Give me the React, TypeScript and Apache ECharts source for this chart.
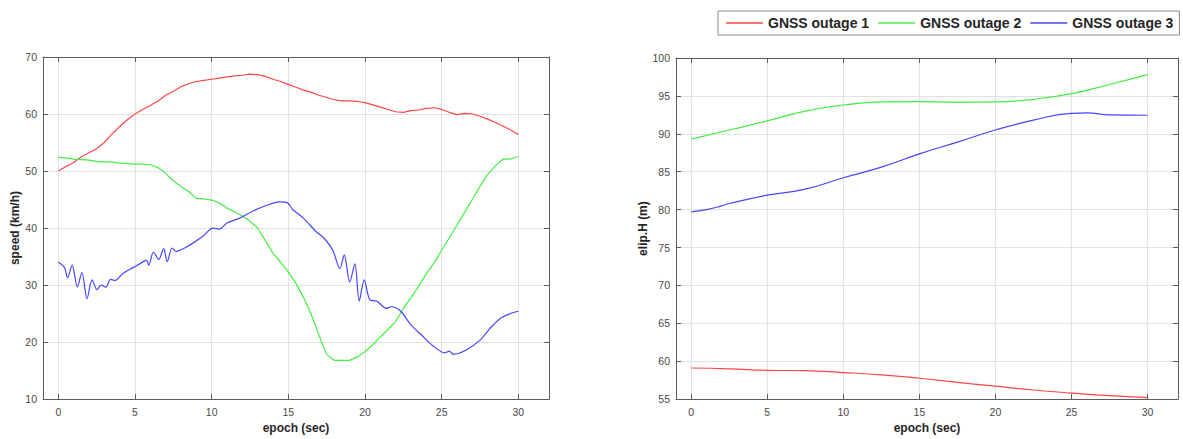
import React, { useEffect, useRef } from "react";
import * as echarts from "echarts";

// ---------- data ----------
const epochHalf = [
  0, 0.5, 1, 1.5, 2, 2.5, 3, 3.5, 4, 4.5, 5, 5.5, 6, 6.5, 7, 7.5, 8, 8.5, 9, 9.5,
  10, 10.5, 11, 11.5, 12, 12.5, 13, 13.5, 14, 14.5, 15, 15.5, 16, 16.5, 17, 17.5,
  18, 18.5, 19, 19.5, 20, 20.5, 21, 21.5, 22, 22.5, 23, 23.5, 24, 24.5, 25, 25.5,
  26, 26.5, 27, 27.5, 28, 28.5, 29, 29.5, 30,
];

const speedOutage1 = [
  50.0, 50.8, 51.5, 52.5, 53.2, 53.9, 55.0, 56.5, 57.8, 59.0, 60.0, 60.8, 61.5, 62.3,
  63.3, 64.0, 64.8, 65.3, 65.7, 65.9, 66.1, 66.3, 66.5, 66.7, 66.8, 67.0, 66.9, 66.6,
  66.1, 65.7, 65.2, 64.7, 64.2, 63.8, 63.3, 62.9, 62.5, 62.3, 62.3, 62.2, 62.0, 61.6,
  61.2, 60.8, 60.4, 60.3, 60.6, 60.7, 61.0, 61.1, 60.8, 60.3, 59.9, 60.1, 60.0, 59.6,
  59.1, 58.5, 57.9, 57.2, 56.4,
];

const speedOutage2 = [
  52.4, 52.3, 52.1, 52.0, 51.9, 51.7, 51.6, 51.6, 51.4, 51.3, 51.2, 51.2, 51.1, 50.6,
  49.6, 48.3, 47.3, 46.4, 45.2, 45.1, 44.9, 44.4, 43.5, 42.8, 42.1, 41.2, 40.0, 37.8,
  35.6, 34.0, 32.3, 30.3, 27.8, 24.8, 21.2, 17.8, 16.8, 16.8, 16.8, 17.4, 18.3, 19.5,
  20.9, 22.2, 23.6, 25.9, 27.8, 29.8, 32.0, 33.9, 36.1, 38.3, 40.5, 42.8, 45.0, 47.3,
  49.4, 50.9, 52.1, 52.1, 52.6,
];

const speedOutage3Epoch = [
  0, 0.4, 0.6, 0.9, 1.24, 1.54, 1.87, 2.2, 2.52, 2.8, 3.1, 3.4, 3.7, 4.2, 4.9, 5.6,
  5.75, 5.9, 6.2, 6.55, 6.87, 7.1, 7.42, 7.7, 8.3, 8.8, 9.4, 10.1, 10.5, 11.0, 11.8,
  12.7, 13.6, 14.4, 14.9, 15.3, 16.0, 16.8, 17.3, 17.9, 18.36, 18.65, 19.0, 19.34,
  19.62, 19.95, 20.32, 20.76, 21.4, 21.7, 22.3, 23.0, 23.7, 24.45, 25.2, 25.5, 25.76,
  26.6, 27.5, 28.15, 28.8, 29.4, 30,
];
const speedOutage3 = [
  34.0, 33.1, 31.3, 33.5, 29.7, 32.2, 27.6, 30.9, 29.2, 30.0, 29.6, 31.0, 30.8, 32.0,
  33.1, 34.2, 34.4, 33.5, 35.8, 34.5, 36.4, 34.1, 36.5, 35.9, 36.6, 37.4, 38.5, 40.0,
  39.8, 40.9, 41.7, 43.0, 44.0, 44.6, 44.5, 43.2, 41.7, 39.4, 38.3, 36.1, 32.9, 35.3,
  30.5, 33.7, 27.2, 30.9, 27.4, 27.2, 25.9, 26.2, 25.5, 23.0, 21.2, 19.3, 18.1, 18.4,
  17.85, 18.6, 20.35, 22.4, 24.1, 24.9, 25.4,
];

const epochCoarse = [0, 2.5, 5, 7.5, 10, 12.5, 15, 17.5, 20, 22.5, 25, 27.5, 30];
const heightOutage1 = [59.1, 59.0, 58.8, 58.75, 58.5, 58.2, 57.75, 57.2, 56.7, 56.2, 55.8, 55.45, 55.2];
const heightOutage2 = [89.3, 90.5, 91.7, 93.0, 93.8, 94.2, 94.25, 94.15, 94.2, 94.55, 95.3, 96.5, 97.8];
const heightOutage3Epoch = [0, 1, 2, 2.5, 5, 7.5, 10, 12.5, 15, 17.5, 20, 22.5, 25, 26, 27.5, 30];
const heightOutage3 = [79.7, 80.0, 80.5, 80.8, 81.9, 82.7, 84.2, 85.6, 87.35, 88.9, 90.5, 91.8, 92.7, 92.75, 92.5, 92.45];

const xTicks = [0, 5, 10, 15, 20, 25, 30];
const seriesNames = ["GNSS outage 1", "GNSS outage 2", "GNSS outage 3"];
const seriesColors = ["#ff4646", "#44ee44", "#4646ff"];
const xTitle = "epoch (sec)";
const yTitles = ["speed (km/h)", "elip.H (m)"];

// ---------- helpers ----------
const zip = (xs: number[], ys: number[]) => xs.map((x, i) => [x, ys[i]]);

const FONT = "'Liberation Sans', Arial, Helvetica, sans-serif";
const AXIS_COLOR = "#5c5c5c";
const GRID_COLOR = "#e2e2e2";
const LABEL_COLOR = "#4a4a4a";
const TITLE_COLOR = "#262626";

function xAxisFor(gridIndex: number, primary: boolean) {
  return {
    type: "value",
    gridIndex,
    position: primary ? "bottom" : "top",
    min: -1,
    max: 32,
    axisLine: { show: true, onZero: false, lineStyle: { color: AXIS_COLOR, width: 1 } },
    axisTick: {
      show: true,
      inside: true,
      length: 5,
      customValues: xTicks,
      lineStyle: { color: AXIS_COLOR, width: 1 },
    },
    axisLabel: {
      show: primary,
      customValues: xTicks,
      margin: 7,
      fontSize: 10.5,
      color: LABEL_COLOR,
      fontFamily: FONT,
    },
    splitLine: { show: primary, lineStyle: { color: GRID_COLOR, width: 1 } },
    name: primary ? xTitle : "",
    nameLocation: "middle",
    nameGap: 22,
    nameTextStyle: { fontWeight: "bold", fontSize: 12, color: TITLE_COLOR, fontFamily: FONT },
  };
}

function yAxisFor(gridIndex: number, primary: boolean, min: number, max: number, interval: number, title: string, nameGap: number) {
  return {
    type: "value",
    gridIndex,
    position: primary ? "left" : "right",
    min,
    max,
    interval,
    axisLine: { show: true, onZero: false, lineStyle: { color: AXIS_COLOR, width: 1 } },
    axisTick: { show: true, inside: true, length: 5, lineStyle: { color: AXIS_COLOR, width: 1 } },
    axisLabel: {
      show: primary,
      margin: 6,
      fontSize: 10.5,
      color: LABEL_COLOR,
      fontFamily: FONT,
    },
    splitLine: { show: primary, lineStyle: { color: GRID_COLOR, width: 1 } },
    name: primary ? title : "",
    nameLocation: "middle",
    nameGap,
    nameRotate: 90,
    nameTextStyle: { fontWeight: "bold", fontSize: 12, color: TITLE_COLOR, fontFamily: FONT },
  };
}

function lineSeries(name: string, color: string, xAxisIndex: number, yAxisIndex: number, data: number[][], smooth: number | boolean) {
  return {
    type: "line",
    name,
    xAxisIndex,
    yAxisIndex,
    data,
    symbol: "none",
    smooth,
    lineStyle: { color, width: 1.2 },
    itemStyle: { color },
  };
}

export default function App() {
  const ref = useRef<HTMLDivElement>(null);

  useEffect(() => {
    if (!ref.current) return;
    const chart = echarts.init(ref.current, undefined, { renderer: "svg" });
    chart.setOption({
      animation: false,
      backgroundColor: "#ffffff",
      textStyle: { fontFamily: FONT },
      legend: {
        left: 718,
        top: 11,
        orient: "horizontal",
        icon: "rect",
        itemWidth: 37,
        itemHeight: 1.5,
        itemGap: 9,
        padding: [5, 6, 5, 8],
        borderColor: "#8a8a8a",
        borderWidth: 1,
        backgroundColor: "#ffffff",
        data: seriesNames,
        textStyle: { fontWeight: "bold", fontSize: 14, lineHeight: 14, color: TITLE_COLOR, fontFamily: FONT },
      },
      grid: [
        { left: 43, top: 57, width: 506, height: 346 },
        { left: 676, top: 58, width: 502, height: 344 },
      ],
      xAxis: [xAxisFor(0, true), xAxisFor(0, false), xAxisFor(1, true), xAxisFor(1, false)],
      yAxis: [
        yAxisFor(0, true, 10, 70, 10, yTitles[0], 20),
        yAxisFor(0, false, 10, 70, 10, "", 0),
        yAxisFor(1, true, 55, 100, 5, yTitles[1], 26),
        yAxisFor(1, false, 55, 100, 5, "", 0),
      ],
      series: [
        lineSeries(seriesNames[0], seriesColors[0], 0, 0, zip(epochHalf, speedOutage1), false),
        lineSeries(seriesNames[1], seriesColors[1], 0, 0, zip(epochHalf, speedOutage2), false),
        lineSeries(seriesNames[2], seriesColors[2], 0, 0, zip(speedOutage3Epoch, speedOutage3), 0.3),
        lineSeries(seriesNames[0], seriesColors[0], 2, 2, zip(epochCoarse, heightOutage1), 0.5),
        lineSeries(seriesNames[1], seriesColors[1], 2, 2, zip(epochCoarse, heightOutage2), 0.5),
        lineSeries(seriesNames[2], seriesColors[2], 2, 2, zip(heightOutage3Epoch, heightOutage3), 0.5),
      ],
    });
    return () => chart.dispose();
  }, []);

  return (
    <div
      ref={ref}
      style={{ position: "fixed", left: 0, top: 0, width: 1183, height: 439, background: "#ffffff" }}
    />
  );
}
